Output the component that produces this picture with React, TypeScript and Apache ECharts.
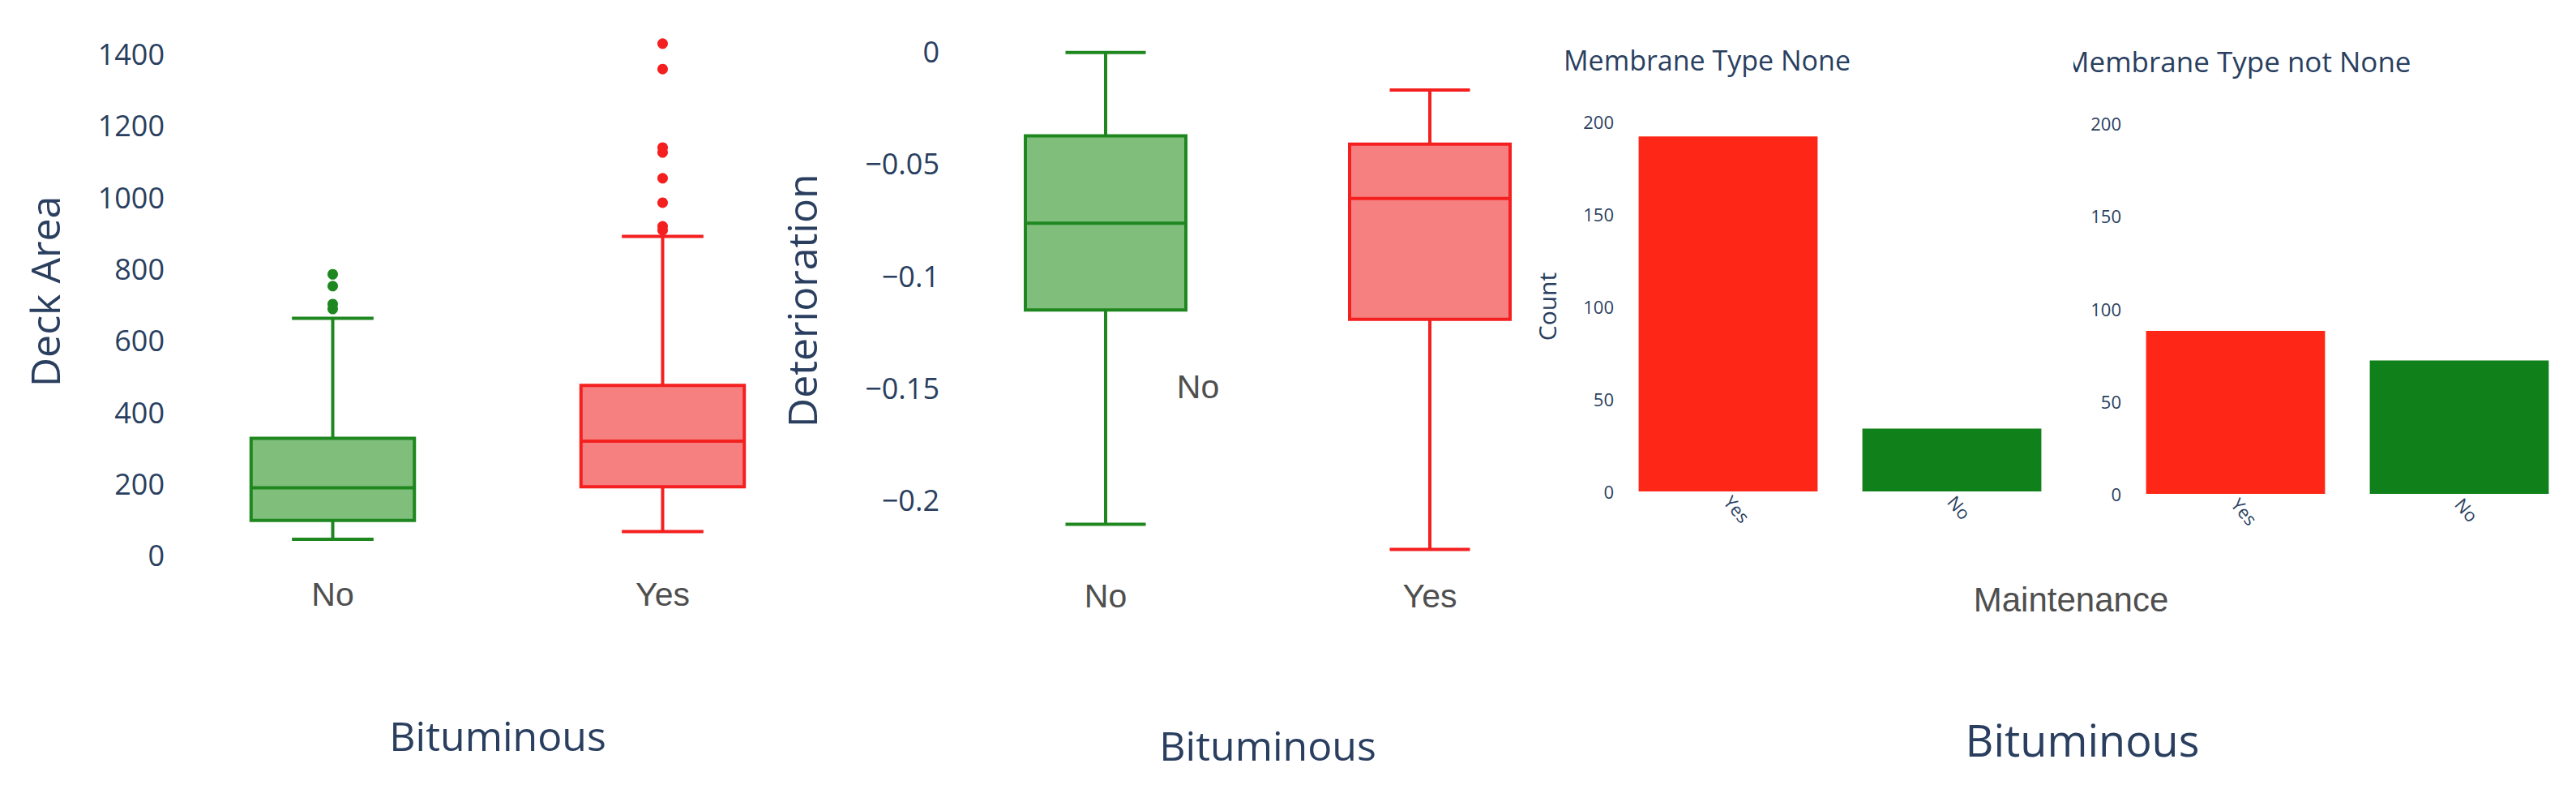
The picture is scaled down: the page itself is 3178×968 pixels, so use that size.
import React, { useEffect, useRef } from "react";
import * as echarts from "echarts";

// ---------- data ----------
const boxCategories = ["No", "Yes"];
// [lower whisker, Q1, median, Q3, upper whisker]
const deckAreaNo = [45, 98, 189, 327, 662];
const deckAreaYes = [67, 192, 319, 475, 891];
const deckAreaOutliersNo = [785, 752, 702, 688];
const deckAreaOutliersYes = [1429, 1358, 1139, 1125, 1053, 985, 919, 908];
const deckAreaTicks = [0, 200, 400, 600, 800, 1000, 1200, 1400];

const deteriorationNo = [-0.2107, -0.1152, -0.0765, -0.0375, -0.0004];
const deteriorationYes = [-0.2219, -0.1193, -0.0655, -0.0412, -0.0171];
const deteriorationTicks = [0, -0.05, -0.1, -0.15, -0.2];

const maintenanceCategories = ["Yes", "No"];
const countMembraneNone = [192, 34];
const countMembraneNotNone = [88, 72];

// ---------- styles ----------
const BLUE = "#2a3f5f";
const GRAY = "#4f4f4f";
const OPEN = "'Open Sans', sans-serif";
const ARIAL = "'Liberation Sans', Arial, sans-serif";
const GREEN_LINE = "#1f871f";
const GREEN_FILL = "#7fbf7b";
const RED_LINE = "#f42020";
const RED_FILL = "#f68080";
const BAR_RED = "#fe2717";
const BAR_GREEN = "#10801a";

const makeBoxRenderer = (stroke: string, fill: string) => (params: any, api: any) => {
  const x = api.value(0);
  const low = api.coord([x, api.value(1)]);
  const q1 = api.coord([x, api.value(2)]);
  const med = api.coord([x, api.value(3)]);
  const q3 = api.coord([x, api.value(4)]);
  const high = api.coord([x, api.value(5)]);
  const band = api.size([1, 0])[0];
  const w = band * 0.495;
  const cap = w / 2;
  const cx = low[0];
  const lw = 4;
  const ls = { stroke, lineWidth: lw, fill: null };
  return {
    type: "group",
    children: [
      { type: "rect", shape: { x: cx - w / 2, y: q3[1], width: w, height: q1[1] - q3[1] }, style: { fill, stroke, lineWidth: lw } },
      { type: "line", shape: { x1: cx - w / 2, y1: med[1], x2: cx + w / 2, y2: med[1] }, style: ls },
      { type: "line", shape: { x1: cx, y1: q3[1], x2: cx, y2: high[1] }, style: ls },
      { type: "line", shape: { x1: cx, y1: q1[1], x2: cx, y2: low[1] }, style: ls },
      { type: "line", shape: { x1: cx - cap / 2, y1: high[1], x2: cx + cap / 2, y2: high[1] }, style: ls },
      { type: "line", shape: { x1: cx - cap / 2, y1: low[1], x2: cx + cap / 2, y2: low[1] }, style: ls },
    ],
  };
};

const fmtDeter = (v: number) => {
  if (Math.abs(v) < 1e-9) return "0";
  const a = Math.round(Math.abs(v) * 1000) / 1000;
  return (v < 0 ? "\u2212" : "") + String(a);
};
const fmtPlain = (v: number) => String(Math.round(v));

const hiddenAxis = { axisLine: { show: false }, axisTick: { show: false }, splitLine: { show: false } };

export default function App() {
  const ref = useRef<HTMLDivElement>(null);
  useEffect(() => {
    document.body.style.margin = "0";
    const chart = echarts.init(ref.current!, null, { renderer: "svg" });
    const option: any = {
      animation: false,
      backgroundColor: "#ffffff",
      grid: [
        { left: 207, top: 23.3, width: 814, height: 672.3 },
        { left: 1164, top: 33.2, width: 800, height: 675.1 },
        { left: 1994, top: 150, width: 552, height: 456 },
        { left: 2620, top: 152, width: 552, height: 457 },
      ],
      xAxis: [
        {
          gridIndex: 0, type: "category", data: boxCategories, ...hiddenAxis,
          axisLabel: { fontSize: 41, color: GRAY, fontFamily: ARIAL, margin: 17 },
          name: "Bituminous", nameLocation: "middle", nameGap: 186,
          nameTextStyle: { fontSize: 50, color: BLUE, fontFamily: OPEN },
        },
        {
          gridIndex: 1, type: "category", data: boxCategories, ...hiddenAxis,
          axisLabel: { fontSize: 41, color: GRAY, fontFamily: ARIAL, margin: 6 },
          name: "Bituminous", nameLocation: "middle", nameGap: 186,
          nameTextStyle: { fontSize: 50, color: BLUE, fontFamily: OPEN },
        },
        {
          gridIndex: 2, type: "category", data: maintenanceCategories, ...hiddenAxis,
          axisLabel: { fontSize: 22, color: BLUE, fontFamily: OPEN, rotate: -50, margin: 8 },
        },
        {
          gridIndex: 3, type: "category", data: maintenanceCategories, ...hiddenAxis,
          axisLabel: { fontSize: 22, color: BLUE, fontFamily: OPEN, rotate: -50, margin: 8 },
        },
      ],
      yAxis: [
        {
          gridIndex: 0, type: "value", min: -24, max: 1498, ...hiddenAxis,
          axisLabel: { customValues: deckAreaTicks, formatter: fmtPlain, fontSize: 36, color: BLUE, fontFamily: OPEN, margin: 4 },
          name: "Deck Area", nameLocation: "middle", nameGap: 127,
          nameTextStyle: { fontSize: 50, color: BLUE, fontFamily: OPEN },
        },
        {
          gridIndex: 1, type: "value", min: -0.233, max: 0.011, ...hiddenAxis,
          axisLabel: { customValues: deteriorationTicks, formatter: fmtDeter, fontSize: 36, color: BLUE, fontFamily: OPEN, margin: 5 },
          name: "Deterioration", nameLocation: "middle", nameGap: 150,
          nameTextStyle: { fontSize: 50, color: BLUE, fontFamily: OPEN },
        },
        {
          gridIndex: 2, type: "value", min: 0, max: 200, interval: 50, ...hiddenAxis,
          axisLabel: { fontSize: 22, color: BLUE, fontFamily: OPEN, margin: 3 },
          name: "Count", nameLocation: "middle", nameGap: 71,
          nameTextStyle: { fontSize: 30, color: BLUE, fontFamily: OPEN },
        },
        {
          gridIndex: 3, type: "value", min: 0, max: 200, interval: 50, ...hiddenAxis,
          axisLabel: { fontSize: 22, color: BLUE, fontFamily: OPEN, margin: 3 },
        },
      ],
      series: [
        {
          type: "custom", xAxisIndex: 0, yAxisIndex: 0, clip: false,
          renderItem: makeBoxRenderer(GREEN_LINE, GREEN_FILL),
          encode: { x: 0, y: [1, 2, 3, 4, 5] },
          data: [[0, ...deckAreaNo]],
        },
        {
          type: "custom", xAxisIndex: 0, yAxisIndex: 0, clip: false,
          renderItem: makeBoxRenderer(RED_LINE, RED_FILL),
          encode: { x: 0, y: [1, 2, 3, 4, 5] },
          data: [[1, ...deckAreaYes]],
        },
        {
          type: "scatter", xAxisIndex: 0, yAxisIndex: 0, clip: false, symbolSize: 13,
          itemStyle: { color: GREEN_LINE, opacity: 1 },
          data: deckAreaOutliersNo.map((v) => [0, v]),
        },
        {
          type: "scatter", xAxisIndex: 0, yAxisIndex: 0, clip: false, symbolSize: 13,
          itemStyle: { color: RED_LINE, opacity: 1 },
          data: deckAreaOutliersYes.map((v) => [1, v]),
        },
        {
          type: "custom", xAxisIndex: 1, yAxisIndex: 1, clip: false,
          renderItem: makeBoxRenderer(GREEN_LINE, GREEN_FILL),
          encode: { x: 0, y: [1, 2, 3, 4, 5] },
          data: [[0, ...deteriorationNo]],
        },
        {
          type: "custom", xAxisIndex: 1, yAxisIndex: 1, clip: false,
          renderItem: makeBoxRenderer(RED_LINE, RED_FILL),
          encode: { x: 0, y: [1, 2, 3, 4, 5] },
          data: [[1, ...deteriorationYes]],
        },
        {
          type: "bar", xAxisIndex: 2, yAxisIndex: 2, barCategoryGap: "20%",
          data: countMembraneNone.map((v, i) => ({ value: v, itemStyle: { color: i === 0 ? BAR_RED : BAR_GREEN } })),
        },
        {
          type: "bar", xAxisIndex: 3, yAxisIndex: 3, barCategoryGap: "20%",
          data: countMembraneNotNone.map((v, i) => ({ value: v, itemStyle: { color: i === 0 ? BAR_RED : BAR_GREEN } })),
        },
      ],
      graphic: [
        { type: "text", x: 1929, y: 74, style: { text: "Membrane Type None", fontSize: 34, fill: BLUE, fontFamily: OPEN, verticalAlign: "middle", align: "left" } },
        { type: "text", x: 2546, y: 75, style: { text: "Membrane Type not None", fontSize: 35, fill: BLUE, fontFamily: OPEN, verticalAlign: "middle", align: "left" } },
        { type: "rect", z: 100, shape: { x: 2490, y: 40, width: 68, height: 75 }, style: { fill: "#ffffff" } },
        { type: "text", x: 2555, y: 739, style: { text: "Maintenance", fontSize: 42, fill: GRAY, fontFamily: ARIAL, verticalAlign: "middle", align: "center" } },
        { type: "text", x: 2569, y: 912, style: { text: "Bituminous", fontSize: 54, fill: BLUE, fontFamily: OPEN, verticalAlign: "middle", align: "center" } },
        { type: "text", x: 1478, y: 477, style: { text: "No", fontSize: 41, fill: GRAY, fontFamily: ARIAL, verticalAlign: "middle", align: "center" } },
      ],
    };
    chart.setOption(option);
    return () => chart.dispose();
  }, []);
  return <div ref={ref} style={{ width: 3178, height: 968 }} />;
}
